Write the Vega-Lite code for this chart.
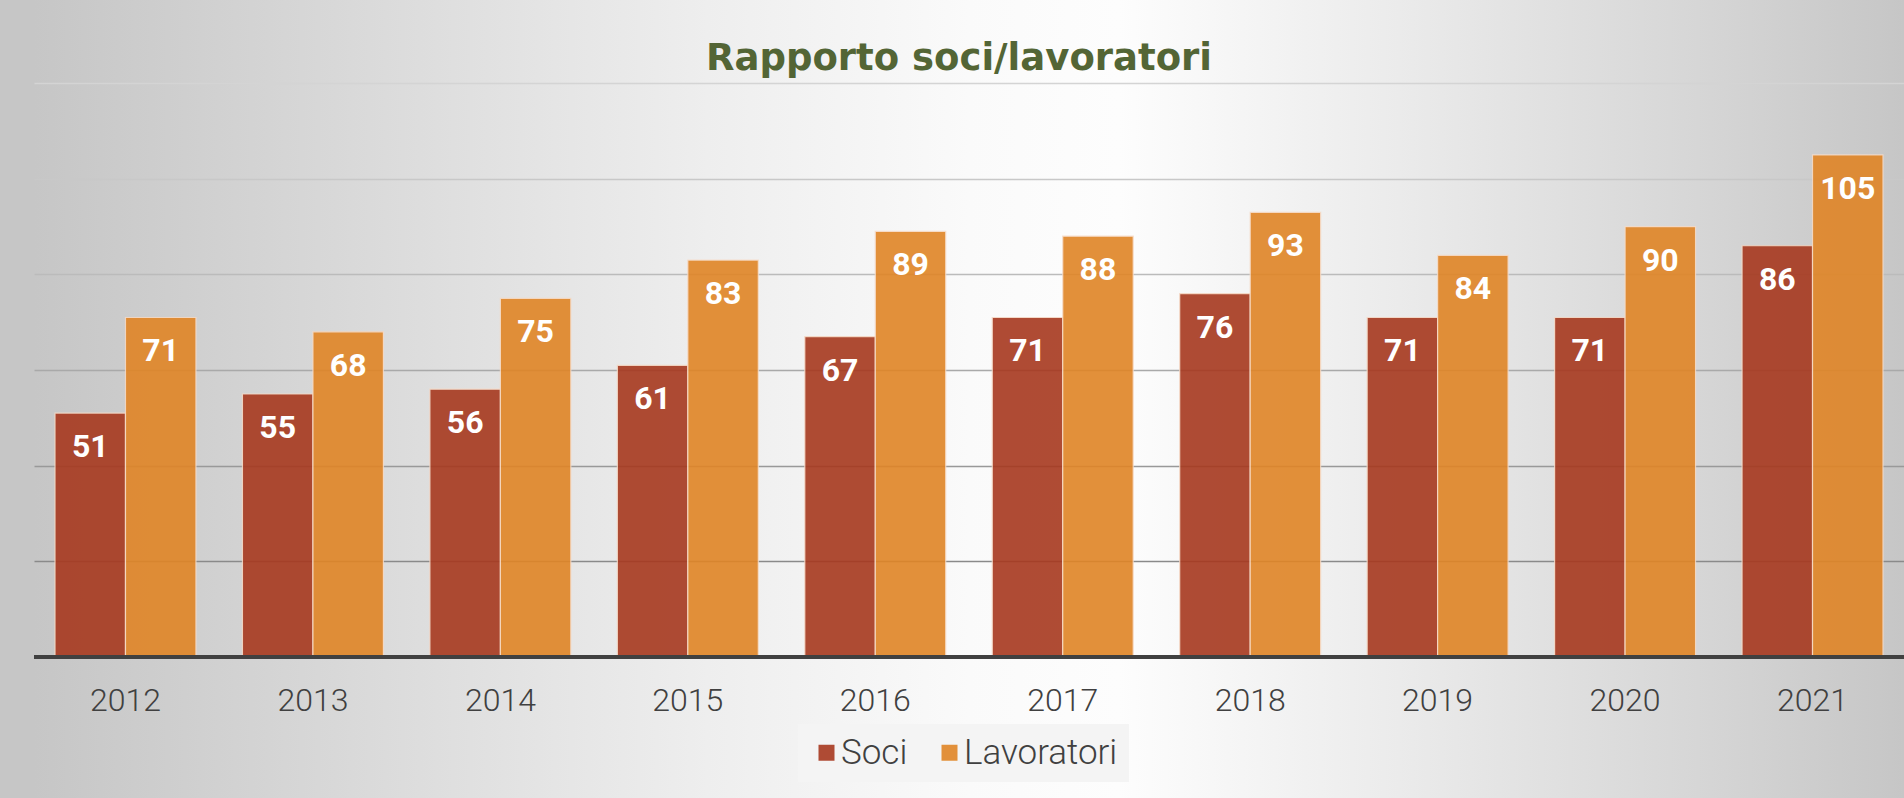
{
  "$schema": "https://vega.github.io/schema/vega-lite/v6.json",
  "width": 1870,
  "height": 798,
  "autosize": {"type": "none"},
  "padding": {"left": 34, "top": 0, "right": 0, "bottom": 0},
  "background": "#c6c6c6",
  "config": {
    "view": {
      "stroke": null,
      "fill": {
        "gradient": "linear", "x1": 0, "y1": 0, "x2": 1, "y2": 0,
        "stops": [
          {"offset": 0, "color": "#c6c6c6"},
          {"offset": 0.17, "color": "#d9d9d9"},
          {"offset": 0.36, "color": "#eeeeee"},
          {"offset": 0.5, "color": "#fafafa"},
          {"offset": 0.58, "color": "#fdfdfd"},
          {"offset": 0.73, "color": "#ebebeb"},
          {"offset": 0.89, "color": "#d6d6d6"},
          {"offset": 1, "color": "#c6c6c6"}
        ]
      }
    }
  },
  "title": {
    "text": "Rapporto soci/lavoratori",
    "font": "DejaVu Sans",
    "fontSize": 37,
    "fontWeight": "bold",
    "color": "#536535",
    "anchor": "middle",
    "baseline": "alphabetic",
    "dx": -10,
    "offset": -107
  },
  "data": {
    "values": [
      {"anno": "2012", "serie": "Soci", "valore": 51},
      {"anno": "2013", "serie": "Soci", "valore": 55},
      {"anno": "2014", "serie": "Soci", "valore": 56},
      {"anno": "2015", "serie": "Soci", "valore": 61},
      {"anno": "2016", "serie": "Soci", "valore": 67},
      {"anno": "2017", "serie": "Soci", "valore": 71},
      {"anno": "2018", "serie": "Soci", "valore": 76},
      {"anno": "2019", "serie": "Soci", "valore": 71},
      {"anno": "2020", "serie": "Soci", "valore": 71},
      {"anno": "2021", "serie": "Soci", "valore": 86},
      {"anno": "2012", "serie": "Lavoratori", "valore": 71},
      {"anno": "2013", "serie": "Lavoratori", "valore": 68},
      {"anno": "2014", "serie": "Lavoratori", "valore": 75},
      {"anno": "2015", "serie": "Lavoratori", "valore": 83},
      {"anno": "2016", "serie": "Lavoratori", "valore": 89},
      {"anno": "2017", "serie": "Lavoratori", "valore": 88},
      {"anno": "2018", "serie": "Lavoratori", "valore": 93},
      {"anno": "2019", "serie": "Lavoratori", "valore": 84},
      {"anno": "2020", "serie": "Lavoratori", "valore": 90},
      {"anno": "2021", "serie": "Lavoratori", "valore": 105}
    ]
  },
  "encoding": {
    "x": {
      "field": "anno",
      "type": "nominal",
      "scale": {"paddingInner": 0.248, "paddingOuter": 0.112},
      "axis": {
        "title": null,
        "labelAngle": 0,
        "domain": false,
        "ticks": false,
        "grid": false,
        "labelFont": "Roboto",
        "labelFontSize": 32,
        "labelFontWeight": 300,
        "labelColor": "#404040",
        "labelPadding": 28,
        "offset": -141
      }
    },
    "xOffset": {
      "field": "serie",
      "type": "nominal",
      "sort": ["Soci", "Lavoratori"],
      "scale": {"paddingInner": 0, "paddingOuter": 0}
    }
  },
  "layer": [
    {
      "mark": {
        "type": "bar",
        "opacity": 0.9,
        "stroke": "#f7dcc8",
        "strokeWidth": 1.2,
        "strokeOpacity": 0.9
      },
      "encoding": {
        "y": {
          "field": "valore",
          "type": "quantitative",
          "scale": {"domain": [-29.5, 137.4], "nice": false, "zero": false},
          "axis": {
            "title": null,
            "labels": false,
            "ticks": false,
            "domain": false,
            "values": [20, 40, 60, 80, 100, 120],
            "gridWidth": 1.5,
            "gridColor": {
              "condition": [
                {"test": "datum.value <= 20", "value": "#8a8a8a"},
                {"test": "datum.value <= 40", "value": "#999999"},
                {"test": "datum.value <= 60", "value": "#a9a9a9"},
                {"test": "datum.value <= 80", "value": "#bbbbbb"},
                {"test": "datum.value <= 100", "value": "#c8c8c8"}
              ],
              "value": "#d4d4d4"
            }
          }
        },
        "y2": {"datum": 0},
        "color": {
          "field": "serie",
          "type": "nominal",
          "scale": {"domain": ["Soci", "Lavoratori"], "range": ["#a7391f", "#e08526"]},
          "legend": {
            "title": null,
            "orient": "none",
            "legendX": 764,
            "legendY": 724,
            "direction": "horizontal",
            "symbolType": "square",
            "symbolSize": 256,
            "symbolStrokeWidth": 0,
            "labelFont": "Roboto",
            "labelFontSize": 35,
            "labelFontWeight": 300,
            "labelColor": "#404040",
            "labelOffset": -3,
            "columnPadding": 24,
            "fillColor": "#f4f4f4",
            "padding": 11
          }
        }
      }
    },
    {
      "mark": {
        "type": "text",
        "font": "Roboto",
        "fontSize": 32,
        "fontWeight": "bold",
        "color": "#ffffff",
        "baseline": "alphabetic",
        "align": "center",
        "dy": 44
      },
      "encoding": {
        "y": {"field": "valore", "type": "quantitative"},
        "text": {"field": "valore", "type": "quantitative"}
      }
    },
    {
      "data": {"values": [{}]},
      "mark": {"type": "rule", "color": "#404040", "strokeWidth": 4},
      "encoding": {"y": {"datum": 0}, "x": null, "xOffset": null}
    }
  ]
}
